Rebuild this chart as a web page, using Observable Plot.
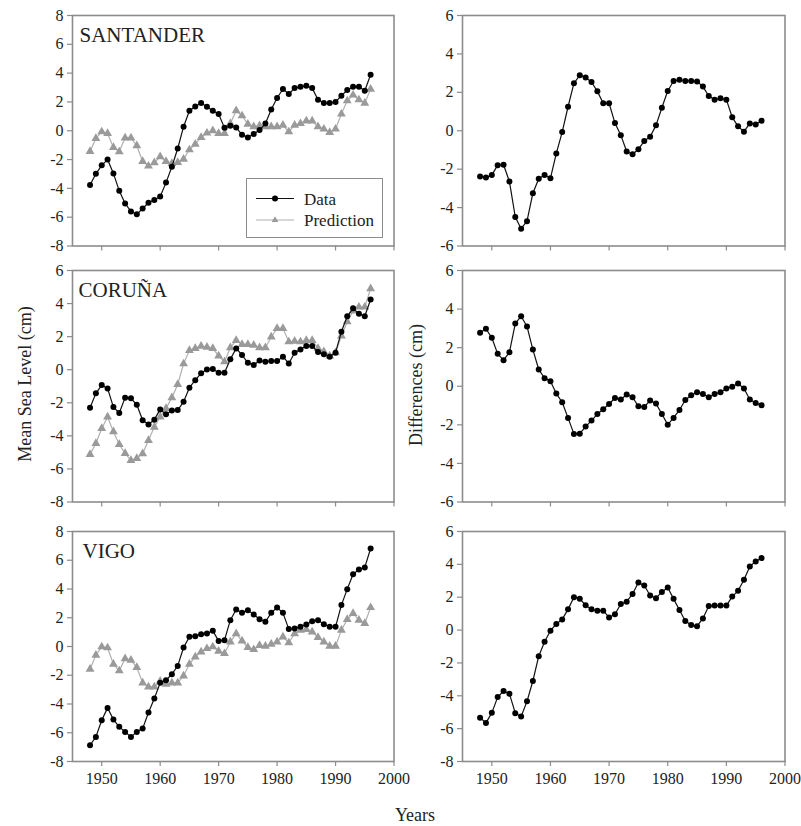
<!DOCTYPE html>
<html>
<head>
<meta charset="utf-8">
<script src="https://cdn.jsdelivr.net/npm/d3@7"></script>
<script src="https://cdn.jsdelivr.net/npm/@observablehq/plot@0.6"></script>
<style>
  html, body { margin: 0; padding: 0; background: #fff; }
  #fig { position: relative; width: 801px; height: 826px; font-family: "Liberation Serif", serif; color: #222; }
  #fig svg.plot-panel { position: absolute; overflow: visible; }
  #fig svg text, #fig svg tspan { font-family: "Liberation Serif", serif !important; }
  .lbl { position: absolute; font-size: 18px; white-space: nowrap; color: #222; font-family: "Liberation Serif", serif !important; }
</style>
</head>
<body>
<div id="fig"></div>
<script>
// ---------- data ----------
const years = [1948,1949,1950,1951,1952,1953,1954,1955,1956,1957,1958,1959,1960,1961,1962,1963,1964,1965,1966,1967,1968,1969,1970,1971,1972,1973,1974,1975,1976,1977,1978,1979,1980,1981,1982,1983,1984,1985,1986,1987,1988,1989,1990,1991,1992,1993,1994,1995,1996];

const santanderData = [-3.77,-2.99,-2.4,-2.0,-2.96,-4.17,-5.05,-5.6,-5.8,-5.4,-5.0,-4.8,-4.56,-3.6,-2.5,-1.23,0.28,1.39,1.69,1.92,1.67,1.39,1.16,0.2,0.35,0.23,-0.28,-0.46,-0.23,0.05,0.5,1.48,2.27,2.9,2.55,2.96,3.05,3.12,2.96,2.15,1.92,1.92,2.0,2.43,2.82,3.05,3.05,2.78,3.89];
const santanderPred = [-1.44,-0.53,-0.07,-0.19,-1.16,-1.46,-0.49,-0.49,-1.04,-2.13,-2.45,-2.22,-1.8,-2.13,-2.27,-2.2,-1.97,-1.32,-0.93,-0.46,-0.16,0.0,-0.19,-0.19,0.5,1.39,1.04,0.46,0.28,0.35,0.28,0.28,0.28,0.39,-0.07,0.39,0.5,0.69,0.69,0.28,0.12,-0.12,0.12,1.16,2.08,2.48,2.15,1.92,2.89];
const santanderDiff = [-2.38,-2.43,-2.31,-1.79,-1.77,-2.64,-4.49,-5.1,-4.71,-3.25,-2.5,-2.3,-2.47,-1.18,-0.07,1.25,2.47,2.89,2.77,2.54,2.05,1.43,1.43,0.4,-0.23,-1.08,-1.22,-0.96,-0.54,-0.31,0.28,1.2,2.07,2.59,2.66,2.59,2.59,2.57,2.3,1.81,1.62,1.69,1.62,0.7,0.23,-0.05,0.38,0.33,0.52];

const corunaData = [-2.3,-1.43,-0.93,-1.13,-2.26,-2.62,-1.69,-1.73,-2.12,-3.06,-3.31,-3.02,-2.4,-2.7,-2.46,-2.44,-1.94,-1.09,-0.63,-0.22,0.02,0.04,-0.18,-0.18,0.63,1.29,0.89,0.42,0.28,0.56,0.48,0.52,0.52,0.79,0.38,1.03,1.23,1.43,1.43,1.07,0.93,0.79,1.03,2.3,3.23,3.71,3.39,3.23,4.25];
const corunaPred = [-5.12,-4.46,-3.55,-2.86,-3.75,-4.52,-5.06,-5.48,-5.36,-5.08,-4.27,-3.47,-2.86,-2.34,-1.69,-0.89,0.36,1.17,1.29,1.43,1.37,1.29,0.83,0.48,1.33,1.77,1.53,1.53,1.49,1.33,1.33,1.98,2.5,2.5,1.69,1.73,1.69,1.77,1.77,1.29,1.09,0.83,1.03,2.04,2.9,3.55,3.79,3.79,4.9];
const corunaDiff = [2.77,2.98,2.51,1.68,1.35,1.76,3.25,3.63,3.1,1.9,0.87,0.42,0.26,-0.38,-0.83,-1.64,-2.47,-2.46,-2.09,-1.78,-1.44,-1.19,-0.92,-0.61,-0.69,-0.43,-0.57,-1.04,-1.07,-0.74,-0.9,-1.44,-1.99,-1.64,-1.23,-0.71,-0.47,-0.31,-0.4,-0.57,-0.4,-0.31,-0.12,-0.02,0.14,-0.12,-0.69,-0.87,-0.99];

const vigoData = [-6.87,-6.29,-5.13,-4.27,-5.08,-5.59,-5.94,-6.29,-5.94,-5.71,-4.59,-3.62,-2.53,-2.34,-1.93,-1.35,-0.07,0.67,0.72,0.86,0.9,1.09,0.39,0.44,1.83,2.58,2.34,2.53,2.23,1.9,1.72,2.34,2.71,2.34,1.21,1.25,1.37,1.53,1.76,1.83,1.55,1.37,1.37,2.88,3.99,5.03,5.36,5.5,6.82];
const vigoPred = [-1.58,-0.6,-0.02,-0.09,-1.23,-1.69,-0.84,-0.95,-1.46,-2.53,-2.81,-2.81,-2.41,-2.62,-2.53,-2.53,-2.04,-1.23,-0.72,-0.37,-0.14,-0.02,-0.32,-0.49,0.32,0.9,0.39,-0.07,-0.21,0.07,0.02,0.16,0.32,0.67,0.26,0.9,1.14,1.18,1.02,0.63,0.32,0.02,0.02,1.14,1.88,2.3,1.83,1.6,2.71];
const vigoDiff = [-5.34,-5.65,-5.04,-4.08,-3.71,-3.87,-5.06,-5.26,-4.34,-3.1,-1.59,-0.71,-0.04,0.37,0.65,1.26,2.0,1.9,1.51,1.26,1.18,1.18,0.77,0.96,1.59,1.73,2.2,2.89,2.71,2.1,1.94,2.32,2.59,1.9,1.22,0.55,0.31,0.24,0.71,1.47,1.49,1.49,1.49,2.04,2.39,3.06,3.87,4.18,4.38];

const stations = ["SANTANDER", "CORUÑA", "VIGO"];
const xTicks = [1950, 1960, 1970, 1980, 1990, 2000];
const levelTicksSantander = [-8,-6,-4,-2,0,2,4,6,8];
const levelTicksCoruna = [-8,-6,-4,-2,0,2,4,6];
const levelTicksVigo = [-8,-6,-4,-2,0,2,4,6,8];
const diffTicksSantander = [-6,-4,-2,0,2,4,6];
const diffTicksCoruna = [-6,-4,-2,0,2,4,6];
const diffTicksVigo = [-8,-6,-4,-2,0,2,4,6];
const legendLabels = ["Data", "Prediction"];
const axisTitles = {left: "Mean Sea Level (cm)", right: "Differences (cm)", bottom: "Years"};

// ---------- layout ----------
const SERIF = "Liberation Serif, serif";
const FRAME = "#8c8c8c";
const DATA_C = "#111";
const PRED_C = "#9a9a9a";
const PRED_LINE = "#b0b0b0";
const cols = [{x0: 71.5, x1: 393}, {x0: 461.5, x1: 784}];
const rows = [{y0: 14.5, y1: 245}, {y0: 269.5, y1: 501}, {y0: 531, y1: 761}];
const mL = 50, mR = 22, mT = 10;

const fig = document.getElementById("fig");

function makeTable(data, pred) {
  return years.map((yr, i) => ({year: yr, data: data[i], pred: pred ? pred[i] : null}));
}

function panel({col, row, table, hasPred, yTicks, name, nameDx, showXLabels}) {
  const c = cols[col], r = rows[row];
  const mB = showXLabels ? 34 : 10;
  const w = (c.x1 - c.x0) + mL + mR;
  const h = (r.y1 - r.y0) + mT + mB;
  const marks = [
    Plot.frame({stroke: FRAME, strokeWidth: 1.6}),
    Plot.axisY({ticks: yTicks, tickSize: 5, tickPadding: 4, tickFormat: d => String(d), label: null, stroke: FRAME, strokeWidth: 1.2, fill: "#222", fontFamily: SERIF, fontSize: 16}),
    Plot.axisX({ticks: xTicks, tickSize: 5, tickPadding: 6, tickFormat: showXLabels ? (d => String(d)) : (() => ""), label: null, stroke: FRAME, strokeWidth: 1.2, fill: "#222", fontFamily: SERIF, fontSize: 16})
  ];
  if (hasPred) {
    marks.push(Plot.line(table, {x: "year", y: "pred", stroke: PRED_LINE, strokeWidth: 1.2}));
    marks.push(Plot.dot(table, {x: "year", y: "pred", symbol: "triangle", fill: PRED_C, stroke: "none", r: 3.3}));
  }
  marks.push(Plot.line(table, {x: "year", y: "data", stroke: DATA_C, strokeWidth: 1.2}));
  marks.push(Plot.dot(table, {x: "year", y: "data", fill: "#000", stroke: "none", r: 3}));
  if (name) {
    marks.push(Plot.text([name], {frameAnchor: "top-left", dx: nameDx, dy: 26, lineAnchor: "bottom", textAnchor: "start", fontSize: 21, fill: "#222", fontFamily: SERIF}));
  }
  const svg = Plot.plot({
    width: w, height: h,
    marginLeft: mL, marginRight: mR, marginTop: mT, marginBottom: mB,
    x: {domain: [1945, 2000]},
    y: {domain: [yTicks[0], yTicks[yTicks.length - 1]]},
    style: {background: "transparent", fontFamily: SERIF, fontSize: "16px", color: "#222", overflow: "visible"},
    marks
  });
  svg.classList.add("plot-panel");
  svg.setAttribute("font-family", SERIF);
  svg.style.left = (c.x0 - mL) + "px";
  svg.style.top = (r.y0 - mT) + "px";
  svg.style.maxWidth = "none";
  fig.appendChild(svg);
}

panel({col: 0, row: 0, table: makeTable(santanderData, santanderPred), hasPred: true, yTicks: levelTicksSantander, name: stations[0], nameDx: 7, showXLabels: false});
panel({col: 1, row: 0, table: makeTable(santanderDiff), hasPred: false, yTicks: diffTicksSantander, showXLabels: false});
panel({col: 0, row: 1, table: makeTable(corunaData, corunaPred), hasPred: true, yTicks: levelTicksCoruna, name: stations[1], nameDx: 6, showXLabels: false});
panel({col: 1, row: 1, table: makeTable(corunaDiff), hasPred: false, yTicks: diffTicksCoruna, showXLabels: false});
panel({col: 0, row: 2, table: makeTable(vigoData, vigoPred), hasPred: true, yTicks: levelTicksVigo, name: stations[2], nameDx: 10, showXLabels: true});
panel({col: 1, row: 2, table: makeTable(vigoDiff), hasPred: false, yTicks: diffTicksVigo, showXLabels: true});

// ---------- legend ----------
const legend = document.createElement("div");
legend.style.cssText = "position:absolute;left:246px;top:178px;width:137px;height:60px;border:1.5px solid " + FRAME + ";background:#fff;box-sizing:border-box;";
legend.innerHTML =
  '<svg width="137" height="60" style="position:absolute;left:-1.5px;top:-1.5px;overflow:visible">' +
  '<line x1="10" x2="48" y1="20.5" y2="20.5" stroke="' + DATA_C + '" stroke-width="1.2"/>' +
  '<circle cx="29" cy="20.5" r="3" fill="#000"/>' +
  '<line x1="10" x2="48" y1="42" y2="42" stroke="' + PRED_LINE + '" stroke-width="1.2"/>' +
  '<path d="M29,38.3 L32.3,44 L25.7,44 Z" fill="' + PRED_C + '"/>' +
  '<text x="58" y="26.5" font-size="17" fill="#222">' + legendLabels[0] + '</text>' +
  '<text x="58" y="48" font-size="17" fill="#222">' + legendLabels[1] + '</text>' +
  '</svg>';
fig.appendChild(legend);

// ---------- axis titles ----------
function label(text, cx, cy, rotate) {
  const d = document.createElement("div");
  d.className = "lbl";
  d.textContent = text;
  d.style.left = cx + "px";
  d.style.top = cy + "px";
  d.style.transform = "translate(-50%,-50%)" + (rotate ? " rotate(-90deg)" : "");
  fig.appendChild(d);
}
label(axisTitles.left, 25, 384, true);
label(axisTitles.right, 416, 385, true);
label(axisTitles.bottom, 415, 815, false);
</script>
</body>
</html>
